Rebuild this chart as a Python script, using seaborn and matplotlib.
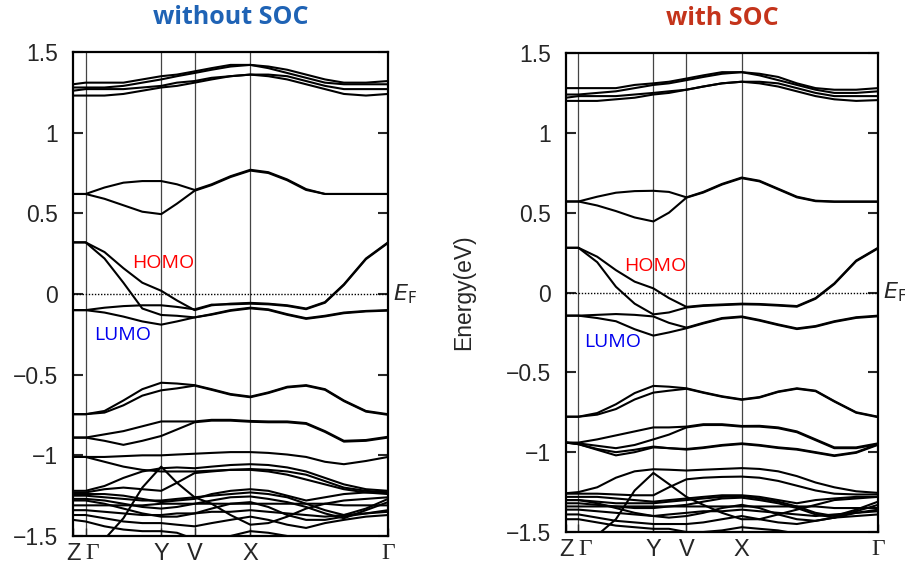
import numpy as np
import pandas as pd
import seaborn as sns
import matplotlib.pyplot as plt

sns.set_style("ticks")
plt.rcParams['font.family'] = ['Liberation Sans', 'DejaVu Sans']

# k-path sample points (fractional path length)
k = [0.00, 0.04, 0.10, 0.16, 0.22, 0.28, 0.33, 0.386, 0.44, 0.50, 0.563,
     0.62, 0.68, 0.74, 0.80, 0.86, 0.93, 1.00]
k_ticks = [0.0, 0.04, 0.28, 0.386, 0.563, 1.0]
k_labels = ["Z", "Γ", "Y", "V", "X", "Γ"]

# ---------------- without SOC ----------------
noSOC = {
    "T1": [1.30,1.31,1.31,1.31,1.33,1.35,1.36,1.38,1.40,1.42,1.42,1.41,1.39,1.36,1.33,1.31,1.31,1.32],
    "T2": [1.28,1.28,1.28,1.29,1.31,1.33,1.35,1.37,1.39,1.41,1.42,1.40,1.37,1.34,1.31,1.30,1.30,1.30],
    "T3": [1.26,1.27,1.27,1.27,1.28,1.29,1.31,1.32,1.34,1.35,1.36,1.36,1.35,1.32,1.29,1.27,1.27,1.27],
    "T4": [1.23,1.23,1.23,1.24,1.26,1.28,1.29,1.31,1.33,1.35,1.36,1.35,1.33,1.30,1.27,1.24,1.23,1.24],
    "U1": [0.62,0.62,0.66,0.69,0.70,0.70,0.68,0.645,0.68,0.73,0.77,0.755,0.71,0.65,0.62,0.62,0.62,0.62],
    "U2": [0.62,0.62,0.59,0.55,0.51,0.495,0.56,0.64,0.675,0.725,0.765,0.75,0.705,0.645,0.62,0.62,0.62,0.62],
    "H1": [0.32,0.32,0.26,0.16,0.07,0.02,-0.04,-0.10,-0.07,-0.06,-0.055,-0.06,-0.07,-0.09,-0.05,0.06,0.22,0.32],
    "H2": [0.32,0.32,0.22,0.07,-0.09,-0.13,-0.135,-0.145,-0.125,-0.10,-0.085,-0.095,-0.125,-0.15,-0.135,-0.115,-0.105,-0.10],
    "L1": [-0.10,-0.10,-0.085,-0.075,-0.07,-0.07,-0.08,-0.095,-0.066,-0.064,-0.06,-0.064,-0.074,-0.094,-0.054,0.056,0.216,0.316],
    "L2": [-0.10,-0.10,-0.115,-0.14,-0.17,-0.19,-0.17,-0.145,-0.128,-0.104,-0.089,-0.099,-0.129,-0.154,-0.139,-0.119,-0.108,-0.103],
    "V1a": [-0.745,-0.745,-0.725,-0.66,-0.59,-0.55,-0.555,-0.565,-0.59,-0.62,-0.636,-0.61,-0.575,-0.565,-0.59,-0.66,-0.725,-0.745],
    "V1b": [-0.745,-0.745,-0.735,-0.69,-0.63,-0.597,-0.585,-0.568,-0.594,-0.624,-0.64,-0.614,-0.579,-0.569,-0.594,-0.664,-0.729,-0.749],
    "V2a": [-0.89,-0.89,-0.87,-0.85,-0.82,-0.79,-0.79,-0.79,-0.78,-0.78,-0.787,-0.79,-0.79,-0.80,-0.85,-0.91,-0.905,-0.885],
    "V2b": [-0.89,-0.89,-0.91,-0.935,-0.91,-0.88,-0.84,-0.795,-0.785,-0.785,-0.792,-0.795,-0.795,-0.805,-0.855,-0.915,-0.91,-0.89],
    "V3": [-1.01,-1.01,-1.01,-1.005,-1.0,-1.0,-0.995,-0.99,-0.985,-0.98,-0.98,-0.985,-0.995,-1.01,-1.04,-1.055,-1.035,-1.01],
    "V4": [-1.01,-1.01,-1.04,-1.07,-1.09,-1.10,-1.10,-1.10,-1.095,-1.09,-1.085,-1.09,-1.10,-1.12,-1.16,-1.20,-1.22,-1.23],
    "V5": [-1.60,-1.60,-1.52,-1.39,-1.20,-1.07,-1.17,-1.26,-1.30,-1.37,-1.43,-1.42,-1.38,-1.33,-1.30,-1.28,-1.27,-1.26],
    "V6": [-1.23,-1.23,-1.21,-1.20,-1.21,-1.22,-1.17,-1.11,-1.10,-1.09,-1.09,-1.10,-1.12,-1.15,-1.18,-1.21,-1.23,-1.24],
    "V7": [-1.22,-1.22,-1.19,-1.14,-1.10,-1.08,-1.075,-1.08,-1.07,-1.06,-1.055,-1.06,-1.075,-1.10,-1.14,-1.18,-1.21,-1.22],
    "D1": [-1.24,-1.24,-1.24,-1.25,-1.27,-1.29,-1.28,-1.27,-1.24,-1.22,-1.21,-1.22,-1.25,-1.28,-1.26,-1.24,-1.23,-1.23],
    "D2": [-1.25,-1.25,-1.26,-1.27,-1.28,-1.28,-1.27,-1.26,-1.25,-1.24,-1.23,-1.24,-1.26,-1.30,-1.34,-1.37,-1.33,-1.27],
    "D3": [-1.27,-1.27,-1.28,-1.30,-1.32,-1.33,-1.32,-1.30,-1.28,-1.26,-1.255,-1.27,-1.29,-1.32,-1.36,-1.39,-1.34,-1.29],
    "D4": [-1.31,-1.31,-1.31,-1.31,-1.31,-1.30,-1.30,-1.30,-1.30,-1.30,-1.30,-1.30,-1.30,-1.30,-1.30,-1.31,-1.31,-1.31],
    "D5": [-1.34,-1.34,-1.35,-1.36,-1.37,-1.37,-1.36,-1.36,-1.35,-1.35,-1.34,-1.35,-1.36,-1.37,-1.38,-1.37,-1.36,-1.35],
    "D6": [-1.37,-1.37,-1.39,-1.41,-1.42,-1.42,-1.43,-1.44,-1.42,-1.40,-1.38,-1.40,-1.43,-1.45,-1.42,-1.40,-1.38,-1.37],
    "D7": [-1.40,-1.41,-1.44,-1.46,-1.47,-1.47,-1.48,-1.52,-1.52,-1.50,-1.47,-1.48,-1.50,-1.52,-1.55,-1.55,-1.55,-1.55],
    "D8": [-1.28,-1.28,-1.30,-1.33,-1.36,-1.38,-1.38,-1.36,-1.33,-1.30,-1.29,-1.32,-1.37,-1.40,-1.40,-1.38,-1.36,-1.34],
}

# ---------------- with SOC ----------------
withSOC = {
    "T1": [1.28,1.28,1.28,1.28,1.30,1.31,1.32,1.34,1.36,1.38,1.38,1.37,1.35,1.31,1.28,1.27,1.27,1.28],
    "T2": [1.24,1.24,1.25,1.26,1.28,1.30,1.31,1.33,1.35,1.37,1.38,1.36,1.33,1.30,1.27,1.25,1.25,1.26],
    "T3": [1.22,1.23,1.23,1.23,1.24,1.25,1.26,1.27,1.29,1.31,1.32,1.32,1.31,1.28,1.25,1.23,1.23,1.23],
    "T4": [1.20,1.20,1.20,1.21,1.22,1.24,1.25,1.27,1.29,1.31,1.32,1.31,1.29,1.26,1.23,1.21,1.20,1.205],
    "U1": [0.57,0.57,0.60,0.625,0.635,0.637,0.63,0.596,0.63,0.68,0.72,0.70,0.65,0.60,0.575,0.57,0.57,0.57],
    "U2": [0.57,0.57,0.545,0.51,0.47,0.445,0.50,0.594,0.626,0.676,0.716,0.696,0.646,0.596,0.572,0.568,0.568,0.568],
    "H1": [0.28,0.28,0.224,0.14,0.068,0.026,-0.035,-0.09,-0.08,-0.075,-0.07,-0.072,-0.078,-0.085,-0.035,0.057,0.20,0.28],
    "H2": [0.28,0.28,0.19,0.036,-0.07,-0.137,-0.125,-0.094,-0.084,-0.079,-0.074,-0.076,-0.082,-0.089,-0.039,0.053,0.196,0.276],
    "L1": [-0.145,-0.145,-0.14,-0.135,-0.14,-0.15,-0.19,-0.22,-0.19,-0.16,-0.15,-0.172,-0.20,-0.225,-0.21,-0.18,-0.155,-0.145],
    "L2": [-0.145,-0.145,-0.16,-0.18,-0.23,-0.27,-0.25,-0.224,-0.194,-0.164,-0.154,-0.176,-0.204,-0.229,-0.214,-0.184,-0.159,-0.149],
    "V1a": [-0.778,-0.778,-0.755,-0.70,-0.63,-0.585,-0.59,-0.60,-0.625,-0.65,-0.669,-0.655,-0.62,-0.60,-0.615,-0.68,-0.75,-0.778],
    "V1b": [-0.778,-0.778,-0.765,-0.73,-0.67,-0.627,-0.615,-0.603,-0.628,-0.653,-0.672,-0.658,-0.623,-0.603,-0.618,-0.683,-0.753,-0.781],
    "V2a": [-0.94,-0.94,-0.92,-0.895,-0.87,-0.845,-0.845,-0.84,-0.825,-0.825,-0.836,-0.835,-0.845,-0.87,-0.92,-0.97,-0.97,-0.945],
    "V2b": [-0.94,-0.945,-0.96,-0.975,-0.955,-0.92,-0.89,-0.845,-0.83,-0.83,-0.84,-0.84,-0.85,-0.875,-0.925,-0.975,-0.975,-0.95],
    "V3a": [-0.94,-0.95,-0.98,-1.0,-0.985,-0.965,-0.975,-0.98,-0.97,-0.955,-0.945,-0.955,-0.97,-0.98,-1.0,-1.02,-1.0,-0.95],
    "V3b": [-0.94,-0.95,-0.985,-1.02,-1.0,-0.97,-0.975,-0.984,-0.974,-0.959,-0.949,-0.959,-0.974,-0.984,-1.004,-1.024,-1.004,-0.954],
    "V4": [-1.257,-1.25,-1.22,-1.16,-1.12,-1.107,-1.11,-1.115,-1.11,-1.105,-1.10,-1.105,-1.12,-1.15,-1.19,-1.22,-1.245,-1.255],
    "V5": [-1.60,-1.60,-1.52,-1.42,-1.24,-1.13,-1.20,-1.28,-1.33,-1.38,-1.42,-1.42,-1.39,-1.36,-1.33,-1.30,-1.29,-1.28],
    "V6": [-1.26,-1.26,-1.26,-1.265,-1.27,-1.27,-1.22,-1.17,-1.16,-1.155,-1.153,-1.16,-1.18,-1.21,-1.24,-1.26,-1.265,-1.265],
    "D1": [-1.28,-1.28,-1.28,-1.29,-1.30,-1.31,-1.30,-1.29,-1.28,-1.27,-1.27,-1.28,-1.30,-1.32,-1.30,-1.29,-1.28,-1.28],
    "D2": [-1.30,-1.30,-1.31,-1.32,-1.32,-1.32,-1.31,-1.30,-1.29,-1.28,-1.275,-1.29,-1.31,-1.34,-1.38,-1.40,-1.36,-1.31],
    "D3": [-1.32,-1.32,-1.33,-1.34,-1.35,-1.35,-1.34,-1.33,-1.31,-1.29,-1.285,-1.30,-1.32,-1.35,-1.39,-1.41,-1.37,-1.33],
    "D4": [-1.34,-1.34,-1.34,-1.34,-1.34,-1.34,-1.34,-1.34,-1.34,-1.34,-1.34,-1.34,-1.34,-1.34,-1.34,-1.35,-1.35,-1.35],
    "D5": [-1.36,-1.36,-1.37,-1.38,-1.39,-1.40,-1.39,-1.38,-1.37,-1.37,-1.36,-1.37,-1.38,-1.39,-1.40,-1.39,-1.38,-1.37],
    "D6": [-1.39,-1.39,-1.41,-1.43,-1.44,-1.45,-1.45,-1.45,-1.44,-1.42,-1.40,-1.42,-1.44,-1.45,-1.43,-1.41,-1.40,-1.39],
    "D7": [-1.42,-1.42,-1.44,-1.46,-1.47,-1.48,-1.48,-1.50,-1.50,-1.49,-1.47,-1.48,-1.49,-1.51,-1.53,-1.55,-1.55,-1.55],
    "D8": [-1.30,-1.30,-1.32,-1.35,-1.38,-1.40,-1.41,-1.40,-1.38,-1.35,-1.33,-1.35,-1.39,-1.42,-1.43,-1.41,-1.38,-1.36],
}

y_ticks = [-1.5, -1.0, -0.5, 0.0, 0.5, 1.0, 1.5]
y_labels = ["\u22121.5", "\u22121", "\u22120.5", "0", "0.5", "1", "1.5"]


def to_long(bands):
    rows = []
    for name, vals in bands.items():
        for kk, e in zip(k, vals):
            rows.append((name, kk, e))
    return pd.DataFrame(rows, columns=["band", "k", "E"])


fig = plt.figure(figsize=(9.05, 5.69), dpi=100)
ax1 = fig.add_axes([73/905, 1-536/569, 315/905, 484/569])
ax2 = fig.add_axes([566/905, 1-532/569, 312/905, 479/569])

panels = [
    (ax1, noSOC, "without SOC", "#1F63B5", (0.286, 0.19), (0.159, -0.255)),
    (ax2, withSOC, "with SOC", "#C4341B", (0.285, 0.166), (0.151, -0.308)),
]

for ax, bands, title, tcol, homo_xy, lumo_xy in panels:
    df = to_long(bands)
    sns.lineplot(data=df, x="k", y="E", units="band", estimator=None,
                 sort=False, color="black", lw=1.5, ax=ax, legend=False)
    for kt in k_ticks[1:-1]:
        ax.axvline(kt, color="#444444", lw=0.9, zorder=0)
    ax.axhline(0, color="black", lw=1.0, ls=(0, (1, 1.2)))
    ax.set_xlim(0, 1)
    ax.set_ylim(-1.5, 1.5)
    ax.set_yticks(y_ticks)
    ax.set_yticklabels(y_labels, fontsize=16.5)
    ax.set_xticks(k_ticks)
    ax.set_xticklabels(k_labels, fontsize=17)
    xl = ax.get_xticklabels()
    for lbl in xl:
        if lbl.get_text() == "Γ":
            lbl.set_family(["Liberation Serif", "DejaVu Serif"])
    # first Γ is left-aligned so it does not touch Z
    xl[1].set_horizontalalignment("left")
    xl[0].set_horizontalalignment("center")
    ax.tick_params(axis="y", direction="in", length=7, width=1.5, right=True,
                   pad=11)
    ax.tick_params(axis="x", direction="in", length=6, width=1.0, pad=5)
    for s in ax.spines.values():
        s.set_linewidth(1.6)
        s.set_color("black")
    ax.set_xlabel("")
    ax.set_ylabel("")
    ax.set_title(title, color=tcol, fontsize=18, fontweight="bold",
                 family=["Open Sans", "DejaVu Sans"], pad=20)
    ax.text(1.015, 0, r"$E_{\rm F}$", transform=ax.get_yaxis_transform(),
            fontsize=16, va="center", ha="left")
    ax.text(homo_xy[0], homo_xy[1], "HOMO", color="#FF0000", fontsize=14,
            ha="center", va="center", family=["Open Sans", "DejaVu Sans"])
    ax.text(lumo_xy[0], lumo_xy[1], "LUMO", color="#0000EE", fontsize=14,
            ha="center", va="center", family=["Open Sans", "DejaVu Sans"])

ax2.set_ylabel("Energy(eV)", fontsize=16.5, labelpad=22)

fig.savefig("out.png", dpi=100)
